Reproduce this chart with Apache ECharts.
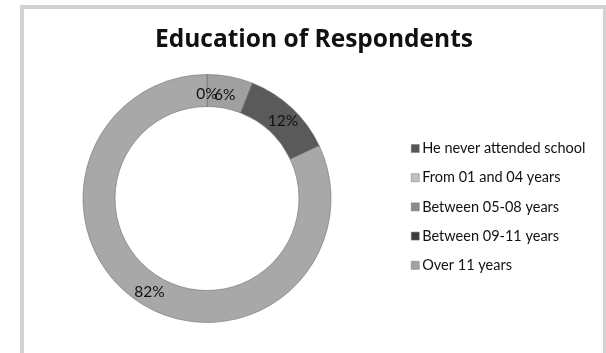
<!DOCTYPE html>
<html>
<head>
<meta charset="utf-8">
<script src="https://cdn.jsdelivr.net/npm/echarts@6/dist/echarts.min.js"></script>
<style>
html,body{margin:0;padding:0;background:#fff;}
#chart{width:606px;height:353px;}
</style>
</head>
<body>
<div id="chart"></div>
<script>
const titleText = 'Education of Respondents';
const categories = ['He never attended school', 'From 01 and 04 years', 'Between 05-08 years', 'Between 09-11 years', 'Over 11 years'];
const values = [0, 6, 0, 12, 82];
const sliceColors = ['#505050', '#a0a0a0', '#8c8c8c', '#5a5a5a', '#a8a8a8'];
const legendColors = ['#555555', '#c2c2c2', '#8c8c8c', '#3c3c3c', '#a2a2a2'];
const showLabel = [true, true, false, true, true];
const labelOffsets = [[0, 6], [-3, 6], [0, 0], [0, 3], [2, 0]];

const chart = echarts.init(document.getElementById('chart'), null, {renderer: 'canvas'});
const font = 'Lato, "Open Sans", sans-serif';

chart.setOption({
  animation: false,
  backgroundColor: '#ffffff',
  title: {
    text: titleText,
    left: 309, top: 23, textAlign: 'center',
    textStyle: {fontFamily: '"Open Sans", sans-serif', fontSize: 24.5, fontWeight: 'bold', color: '#111'}
  },
  legend: {
    orient: 'vertical',
    left: 406, top: 136,
    itemWidth: 8, itemHeight: 8, itemGap: 14.2,
    icon: 'rect',
    textStyle: {fontFamily: font, fontSize: 14.5, color: '#111', padding: [0,0,0,-2]},
    data: categories.map((c, i) => ({name: c, itemStyle: {color: legendColors[i], borderColor: '#777', borderWidth: 0.5}}))
  },
  graphic: [{
    type: 'rect', silent: true,
    shape: {x: 22, y: 7, width: 583, height: 400},
    style: {fill: 'none', stroke: '#d2d2d2', lineWidth: 4}
  }],
  series: [{
    type: 'pie',
    center: [207, 198.5],
    radius: [92, 124],
    startAngle: 90,
    clockwise: true,
    avoidLabelOverlap: false,
    stillShowZeroSum: true,
    minAngle: 0,
    minShowLabelAngle: 0,
    labelLayout: {hideOverlap: false},
    label: {
      show: true, position: 'inside',
      formatter: '{d}%',
      fontFamily: font, fontSize: 15.5, color: '#111'
    },
    labelLine: {show: false},
    itemStyle: {borderColor: '#6e6e6e', borderWidth: 0.6},
    data: categories.map((c, i) => ({
      name: c, value: values[i],
      itemStyle: {color: sliceColors[i]},
      label: {show: showLabel[i], formatter: values[i] + '%', offset: labelOffsets[i]}
    }))
  }]
});
</script>
</body>
</html>
